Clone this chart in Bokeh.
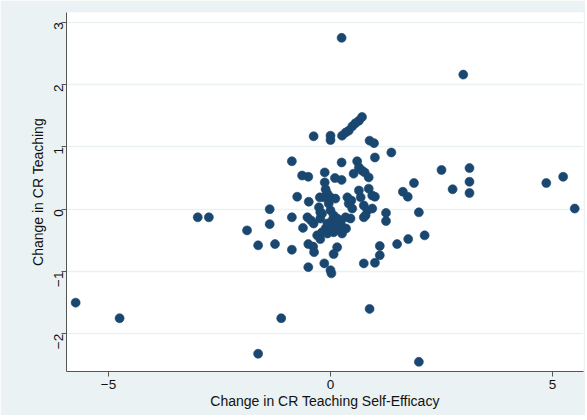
from bokeh.plotting import figure
from bokeh.models import Range1d, FixedTicker
from bokeh.embed import file_html
from bokeh.resources import INLINE
import math

# Change in CR Teaching Self-Efficacy (x) and Change in CR Teaching (y)
x_vals = [
    -5.74, -4.75, -2.99, -2.74, -1.88, -1.63, -1.63, -1.37, -1.37, -1.25,
    -1.11, -0.87, -0.87, -0.87, -0.75, -0.62, -0.64, -0.50, -0.49, -0.52,
    -0.44, -0.38, -0.50, -0.39, -0.37, -0.50, -0.38, -0.24, -0.26, -0.23,
    -0.23, -0.13, -0.13, -0.11, -0.07, 0.00, 0.11, -0.14, 0.00, 0.02,
    0.00, 0.00, 0.10, 0.25, 0.15, 0.07, 0.25, 0.26, 0.34, 0.41,
    0.49, 0.56, 0.64, 0.71, 0.38, 0.41, 0.47, 0.34, 0.45, 0.35,
    0.26, 0.52, 0.60, 0.64, 0.64, 0.68, 0.71, 0.77, 0.86, 0.75,
    0.83, 0.75, 0.94, 0.79, 0.86, 0.94, 0.75, 0.88, 0.98, 1.00,
    1.00, 1.00, 1.11, 1.11, 1.25, 1.25, 1.37, 1.50, 1.63, 1.74,
    1.75, 1.88, 1.99, 2.12, 1.99, 0.88, 2.50, 2.75, 3.13, 3.13,
    3.13, 2.99, 0.25, 4.86, 5.24, 5.50, -0.30, -0.23, 0.00, 0.07,
    0.04, 0.11, 0.00, -0.11, -0.19, -0.07, 0.07, 0.19, 0.23, -0.19,
    -0.04, -0.07, 0.15, 0.49, -0.15,
]
y_vals = [
    -1.50, -1.75, -0.13, -0.13, -0.34, -0.58, -2.32, 0.00, -0.24, -0.56,
    -1.75, 0.77, -0.13, -0.65, 0.20, -0.30, 0.54, 0.52, 0.12, -0.13,
    -0.18, -0.23, -0.56, -0.60, -0.69, -0.93, 1.17, 0.19, 0.03, -0.05,
    -0.15, 0.59, 0.43, 0.32, 0.25, 0.19, 0.17, -0.87, -0.98, -1.03,
    1.18, 1.11, 0.50, 0.47, -0.61, -0.72, 0.75, 1.18, 1.23, 1.26,
    1.33, 1.38, 1.42, 1.48, 0.19, 0.09, 0.14, -0.13, -0.15, -0.31,
    -0.39, 0.57, 0.77, 0.67, 0.30, 0.19, 0.62, 0.59, 0.51, 0.06,
    -0.02, -0.13, 0.01, -0.10, 0.33, 0.22, -0.87, 1.10, 1.06, 0.83,
    0.20, -0.86, -0.74, -0.59, -0.06, -0.19, 0.91, -0.56, 0.28, 0.20,
    -0.48, 0.42, -0.05, -0.42, -2.45, -1.60, 0.63, 0.32, 0.66, 0.44,
    0.26, 2.16, 2.75, 0.42, 0.52, 0.01, -0.42, -0.48, -0.02, -0.10,
    -0.18, -0.23, -0.29, -0.31, -0.37, -0.39, -0.37, -0.31, -0.23, -0.07,
    0.09, -0.23, -0.15, 0.01, 0.19,
]

x_ticks = [-5, 0, 5]
y_ticks = [-2, -1, 0, 1, 2, 3]

BG = "#eaf2f3"
DOT = "#1a476f"
FONT = "Liberation Sans"

p = figure(width=585, height=415, output_backend="svg", toolbar_location=None,
           x_range=Range1d(-5.946, 5.698), y_range=Range1d(-2.605, 3.157),
           min_border_left=66, min_border_right=2, min_border_top=12, min_border_bottom=44)
p.background_fill_color = "white"
p.border_fill_color = BG
p.outline_line_color = None

p.scatter(x_vals, y_vals, size=9, fill_color=DOT, line_color=DOT, line_alpha=0.6, line_width=1)

p.xaxis.ticker = FixedTicker(ticks=x_ticks)
p.yaxis.ticker = FixedTicker(ticks=y_ticks)
p.xaxis.axis_label = "Change in CR Teaching Self-Efficacy"
p.yaxis.axis_label = "Change in CR Teaching"
p.yaxis.major_label_orientation = math.pi / 2
for ax in (p.xaxis[0], p.yaxis[0]):
    ax.axis_label_text_font = FONT
    ax.axis_label_text_font_style = "normal"
    ax.axis_label_text_font_size = "14px"
    ax.axis_label_text_color = "#111111"
    ax.major_label_text_font = FONT
    ax.major_label_text_font_size = "13.5px"
    ax.major_label_text_color = "#111111"
    ax.axis_line_color = "#555555"
    ax.major_tick_line_color = "#555555"
    ax.major_tick_out = 5
    ax.major_tick_in = 0
    ax.minor_tick_line_color = None
    ax.axis_label_standoff = 1
    ax.major_label_standoff = 3

p.xgrid.grid_line_color = None
p.ygrid.grid_line_color = BG
p.ygrid.grid_line_width = 1.5

open("out.html", "w").write(file_html(p, INLINE))
